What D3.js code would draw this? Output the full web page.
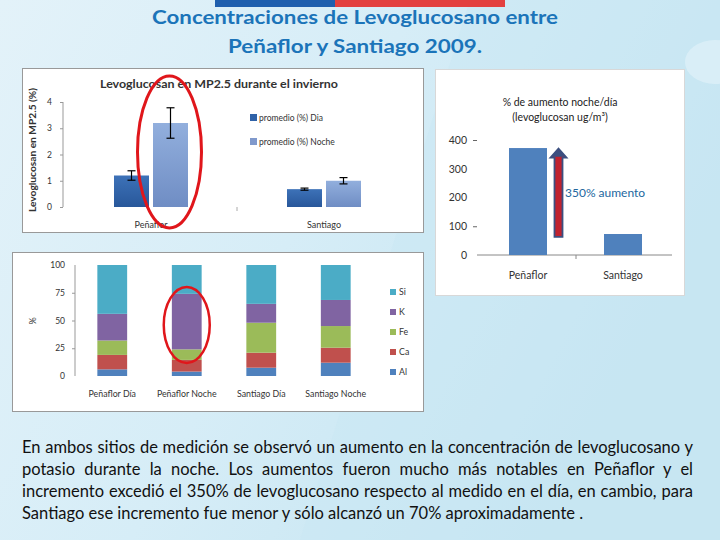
<!DOCTYPE html>
<html><head><meta charset="utf-8">
<script src="https://cdn.jsdelivr.net/npm/d3@7"></script>
<style>html,body{margin:0;padding:0;}svg{display:block;}</style>
</head><body>
<svg id="c" width="720" height="540"></svg>
<script>
// ---------- DATA ----------
const titleLines = ["Concentraciones de Levoglucosano entre", "Peñaflor y Santiago 2009."];

// Chart 1: Levoglucosan en MP2.5 (%)
const levoSites = ["Peñaflor", "Santiago"];
const levoSeries = ["promedio (%) Dia", "promedio (%) Noche"];
const levoDia = [1.2, 0.68];
const levoNoche = [3.2, 1.0];
const levoDiaErr = [0.18, 0.04];
const levoNocheErr = [0.58, 0.12];
const levoTicks = [0, 1, 2, 3, 4];

// Chart 2: % de aumento noche/día
const incSites = ["Peñaflor", "Santiago"];
const incValues = [372, 73];
const incTicks = [0, 100, 200, 300, 400];
const arrowRange = [63, 370];
const arrowLabel = "350% aumento";

// Chart 3: composition (%)
const compCats = ["Peñaflor Día", "Peñaflor Noche", "Santiago Día", "Santiago Noche"];
const compElems = ["Al", "Ca", "Fe", "K", "Si"];
const compAl = [6, 4, 7.5, 12];
const compCa = [13, 10.5, 13.5, 13.5];
const compFe = [13, 9.5, 27, 19.5];
const compK = [24, 50, 17, 23.5];
const compSi = [44, 26, 35, 31.5];
const compTicks = [0, 25, 50, 75, 100];

const paragraph = [
  "En ambos sitios de medición se observó un aumento en la concentración de levoglucosano y",
  "potasio durante la noche. Los aumentos fueron mucho más notables en Peñaflor y el",
  "incremento excedió el 350% de levoglucosano respecto al medido en el día, en cambio, para",
  "Santiago ese incremento fue menor y sólo alcanzó un 70% aproximadamente ."
];

// ---------- DRAW ----------
const svg = d3.select("#c");
const defs = svg.append("defs");
const FONT = "Lato, 'Open Sans', sans-serif";

// background
const bg = defs.append("linearGradient").attr("id","bg").attr("x1","0").attr("y1","0").attr("x2","1").attr("y2","0.4");
bg.append("stop").attr("offset","0").attr("stop-color","#e3f2f9");
bg.append("stop").attr("offset","0.5").attr("stop-color","#d6edf7");
bg.append("stop").attr("offset","1").attr("stop-color","#c4e4f1");
svg.append("rect").attr("width",720).attr("height",540).attr("fill","url(#bg)");
svg.append("path").attr("d","M300,540 L470,0 L720,0 L720,540 Z").attr("fill","#c9e7f3").attr("opacity",0.5);
svg.append("ellipse").attr("cx",715).attr("cy",62).attr("rx",30).attr("ry",22).attr("fill","#e4f4fa").attr("opacity",0.6);

// flag bar
svg.append("rect").attr("x",215).attr("y",0).attr("width",120).attr("height",7).attr("fill","#1f5fae");
svg.append("rect").attr("x",335).attr("y",0).attr("width",170).attr("height",7).attr("fill","#e3403f");

// title
svg.selectAll("text.title").data(titleLines).join("text")
  .attr("x",355).attr("y",(d,i)=>24+i*29)
  .attr("text-anchor","middle").attr("font-family",FONT).attr("font-size",19.5).attr("font-weight","bold")
  .attr("fill","#1b74b9").attr("textLength",(d,i)=>i===0?406:254).attr("lengthAdjust","spacingAndGlyphs")
  .text(d=>d);

// ===== Chart 1 =====
svg.append("rect").attr("x",22.5).attr("y",68.5).attr("width",401).attr("height",164).attr("fill","#fff").attr("stroke","#999");
const g1 = svg.append("g");
const y1 = d3.scaleLinear().domain([0,4]).range([207,102]);
const x1 = d3.scalePoint().domain(levoSites).range([151,324]);
const gd = defs.append("linearGradient").attr("id","gDia").attr("x1",0).attr("y1",0).attr("x2",0).attr("y2",1);
gd.append("stop").attr("offset",0).attr("stop-color","#3d72b8");
gd.append("stop").attr("offset",1).attr("stop-color","#28579a");
const gn = defs.append("linearGradient").attr("id","gNoche").attr("x1",0).attr("y1",0).attr("x2",0).attr("y2",1);
gn.append("stop").attr("offset",0).attr("stop-color","#92afdd");
gn.append("stop").attr("offset",1).attr("stop-color","#6f8dc4");
const bw1 = 35, gap1 = 4;
const ax1 = g1.append("g").attr("transform","translate(63,0)").call(d3.axisLeft(y1).tickValues(levoTicks).tickSize(3).tickFormat(d3.format("d")));
ax1.select(".domain").attr("stroke","#999").attr("d","M0,102V207");
ax1.selectAll(".tick line").attr("stroke","#999");
ax1.selectAll(".tick text").attr("font-family",FONT).attr("font-size",8.5).attr("fill","#333").attr("x",-11);
g1.append("line").attr("x1",237).attr("x2",237).attr("y1",y1(0)).attr("y2",y1(0)+4).attr("stroke","#aaa");
const series1 = [
  {vals: levoDia, err: levoDiaErr, off: -bw1 - gap1/2, fill:"url(#gDia)"},
  {vals: levoNoche, err: levoNocheErr, off: gap1/2, fill:"url(#gNoche)"}
];
series1.forEach(s=>{
  g1.selectAll(null).data(levoSites).join("rect")
    .attr("x",d=>x1(d)+s.off).attr("width",bw1)
    .attr("y",(d,i)=>y1(s.vals[i])).attr("height",(d,i)=>y1(0)-y1(s.vals[i]))
    .attr("fill",s.fill);
  const eb = g1.selectAll(null).data(levoSites).join("g");
  eb.append("line").attr("x1",d=>x1(d)+s.off+bw1/2).attr("x2",d=>x1(d)+s.off+bw1/2)
    .attr("y1",(d,i)=>y1(s.vals[i]+s.err[i])).attr("y2",(d,i)=>y1(s.vals[i]-s.err[i])).attr("stroke","#000").attr("stroke-width",1.2);
  [1,-1].forEach(sg=>{
    eb.append("line").attr("x1",d=>x1(d)+s.off+bw1/2-4).attr("x2",d=>x1(d)+s.off+bw1/2+4)
      .attr("y1",(d,i)=>y1(s.vals[i]+sg*s.err[i])).attr("y2",(d,i)=>y1(s.vals[i]+sg*s.err[i])).attr("stroke","#000").attr("stroke-width",1.2);
  });
});
g1.selectAll(null).data(levoSites).join("text")
  .attr("x",d=>x1(d)).attr("y",228).attr("text-anchor","middle")
  .attr("font-family",FONT).attr("font-size",9).attr("fill","#333").text(d=>d);
g1.append("text").attr("x",219).attr("y",88).attr("text-anchor","middle").attr("font-family",FONT)
  .attr("font-size",11.5).attr("font-weight","bold").attr("fill","#333").attr("textLength",238).attr("lengthAdjust","spacingAndGlyphs")
  .text("Levoglucosan en MP2.5 durante el invierno");
g1.append("text").attr("transform","translate(36,150) rotate(-90)").attr("text-anchor","middle").attr("font-family",FONT)
  .attr("font-size",9).attr("font-weight","bold").attr("fill","#333").attr("textLength",124).attr("lengthAdjust","spacingAndGlyphs")
  .text("Levoglucosan en MP2.5 (%)");
const leg1 = g1.selectAll(null).data(levoSeries).join("g").attr("transform",(d,i)=>`translate(250,${120+i*24})`);
leg1.append("rect").attr("x",0).attr("y",-6).attr("width",7).attr("height",7).attr("fill",(d,i)=>i===0?"#2f62a8":"#8099cc");
leg1.append("text").attr("x",9).attr("y",1).attr("font-family",FONT).attr("font-size",8.5).attr("fill","#333").text(d=>d);
g1.append("ellipse").attr("cx",x1("Peñaflor")+gap1/2+bw1/2-1).attr("cy",y1(2.1)).attr("rx",32).attr("ry",76)
  .attr("fill","none").attr("stroke","#e0161b").attr("stroke-width",3);

// ===== Chart 2 =====
svg.append("rect").attr("x",435.5).attr("y",69.5).attr("width",249).attr("height",226).attr("fill","#fff").attr("stroke","#d8d8d8");
const g2 = svg.append("g");
const y2 = d3.scaleLinear().domain([0,400]).range([255,140]);
const x2 = d3.scalePoint().domain(incSites).range([528,623]);
const ax2 = g2.append("g").attr("transform","translate(477,0)").call(d3.axisLeft(y2).tickValues(incTicks).tickSize(4).tickFormat(d3.format("d")));
ax2.select(".domain").remove();
ax2.selectAll(".tick line").attr("stroke",d=>(d===400||d===100)?"#666":"none");
ax2.selectAll(".tick text").attr("font-family",FONT).attr("font-size",10.5).attr("fill","#333").attr("x",-10);
g2.append("line").attr("x1",477).attr("x2",672).attr("y1",y2(0)).attr("y2",y2(0)).attr("stroke","#888");
g2.append("line").attr("x1",576).attr("x2",576).attr("y1",y2(0)).attr("y2",y2(0)+4).attr("stroke","#888");
g2.selectAll(null).data(incSites).join("rect")
  .attr("x",d=>x2(d)-19).attr("width",38)
  .attr("y",(d,i)=>y2(incValues[i])).attr("height",(d,i)=>y2(0)-y2(incValues[i]))
  .attr("fill","#4f81bd");
g2.selectAll(null).data(incSites).join("text")
  .attr("x",d=>x2(d)).attr("y",279).attr("text-anchor","middle")
  .attr("font-family",FONT).attr("font-size",10.5).attr("fill","#333").text(d=>d);
g2.append("text").attr("x",560).attr("y",106).attr("text-anchor","middle").attr("font-family",FONT).attr("font-size",10.5).attr("fill","#222").text("% de aumento noche/día");
g2.append("text").attr("x",560).attr("y",121).attr("text-anchor","middle").attr("font-family",FONT).attr("font-size",10.5).attr("fill","#222").text("(levoglucosan ug/m³)");
const ax = 558.5, yb = y2(arrowRange[0]), yt = y2(arrowRange[1]);
g2.append("path").attr("d",`M${ax-4},${yb} L${ax-4},${yt+9} L${ax-8},${yt+9} L${ax},${yt} L${ax+8},${yt+9} L${ax+4},${yt+9} L${ax+4},${yb} Z`)
  .attr("fill","#c0222f").attr("stroke","#3b4f80").attr("stroke-width",1.8).attr("stroke-linejoin","miter");
g2.append("path").attr("d",`M${ax-7},${yt+8} L${ax},${yt+1} L${ax+7},${yt+8} Z`).attr("fill","#3b4f80");
g2.append("text").attr("x",565).attr("y",197).attr("font-family",FONT).attr("font-size",12).attr("fill","#23679e").text(arrowLabel);

// ===== Chart 3 =====
svg.append("rect").attr("x",12.5).attr("y",252.5).attr("width",411).attr("height",159).attr("fill","#fff").attr("stroke","#999");
const g3 = svg.append("g");
const y3 = d3.scaleLinear().domain([0,100]).range([376,265]);
const x3 = d3.scaleBand().domain(compCats).range([75,373]).paddingInner(0.6).paddingOuter(0.3);
const compColors = {Al:"#4f81bd", Ca:"#c0504d", Fe:"#9bbb59", K:"#8064a2", Si:"#4bacc6"};
const compVals = {Al:compAl, Ca:compCa, Fe:compFe, K:compK, Si:compSi};
const rows = compCats.map((c,i)=>{const o={cat:c}; compElems.forEach(e=>o[e]=compVals[e][i]); return o;});
const stack = d3.stack().keys(compElems)(rows);
g3.selectAll(null).data(stack).join("g").attr("fill",d=>compColors[d.key])
  .selectAll("rect").data(d=>d).join("rect")
  .attr("x",d=>x3(d.data.cat)).attr("width",x3.bandwidth())
  .attr("y",d=>y3(d[1])).attr("height",d=>y3(d[0])-y3(d[1]));
const ax3 = g3.append("g").attr("transform","translate(75,0)").call(d3.axisLeft(y3).tickValues(compTicks).tickSize(3).tickFormat(d3.format("d")));
ax3.select(".domain").attr("stroke","#999").attr("d","M0,265V376");
ax3.selectAll(".tick line").attr("stroke",d=>(d===0||d===100)?"none":"#999");
ax3.selectAll(".tick text").attr("font-family",FONT).attr("font-size",8.5).attr("fill","#333").attr("x",-10);
g3.append("text").attr("transform","translate(36,321) rotate(-90)").attr("text-anchor","middle").attr("font-family",FONT).attr("font-size",9).attr("fill","#333").text("%");
g3.selectAll(null).data(compCats).join("text")
  .attr("x",d=>x3(d)+x3.bandwidth()/2).attr("y",397).attr("text-anchor","middle")
  .attr("font-family",FONT).attr("font-size",8.8).attr("fill","#333").text(d=>d);
const leg3 = g3.selectAll(null).data(compElems.slice().reverse()).join("g").attr("transform",(d,i)=>`translate(390,${295+i*20})`);
leg3.append("rect").attr("x",0).attr("y",-6).attr("width",6).attr("height",6).attr("fill",d=>compColors[d]);
leg3.append("text").attr("x",9).attr("y",0).attr("font-family",FONT).attr("font-size",8.8).attr("fill","#333").text(d=>d);
g3.append("ellipse").attr("cx",x3("Peñaflor Noche")+x3.bandwidth()/2).attr("cy",y3(46)).attr("rx",23).attr("ry",38)
  .attr("fill","none").attr("stroke","#e0161b").attr("stroke-width",2.5);

// ===== Paragraph (justified via word-spacing) =====
const para = svg.selectAll("text.para").data(paragraph).join("text").attr("class","para")
  .attr("x",22).attr("y",(d,i)=>453+i*22)
  .attr("font-family",FONT).attr("font-size",16.5).attr("fill","#111")
  .text(d=>d);
para.each(function(d,i){
  if(i>=3) return;
  const nat = this.getComputedTextLength();
  const spaces = (d.match(/ /g)||[]).length;
  const ws = (671 - nat)/spaces;
  d3.select(this).attr("word-spacing", ws);
});
</script>
</body></html>
